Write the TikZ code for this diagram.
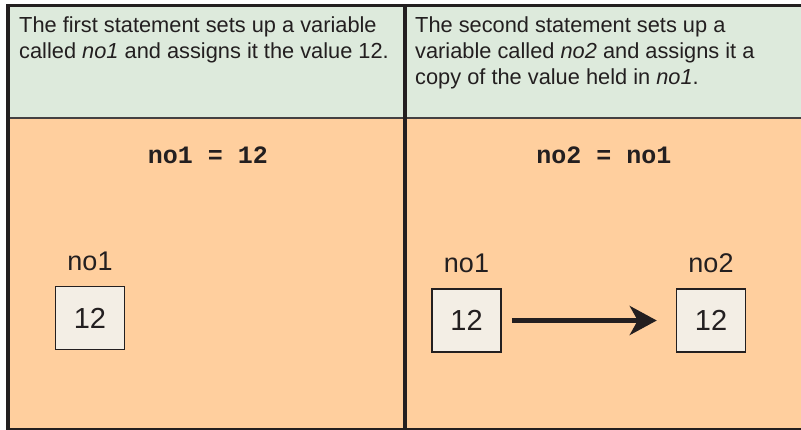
\documentclass[tikz,border=0pt]{standalone}
\usepackage{fontspec}
\setmainfont{Liberation Sans}
\setmonofont{Liberation Mono}
\usepackage{tikz}
\usetikzlibrary{arrows.meta,positioning}
\definecolor{notegreen}{HTML}{DDEADC}
\definecolor{codeorange}{HTML}{FFCF9E}
\definecolor{boxfill}{HTML}{F3EEE5}
\definecolor{ink}{HTML}{231F20}

\begin{document}
\begin{tikzpicture}[x=1pt, y=-1pt,
  note/.style={anchor=north west, inner sep=0pt, align=left, text=ink,
    font=\fontsize{21.8}{26}\selectfont},
  code/.style={inner sep=0pt, text=ink, font=\fontsize{25}{30}\selectfont\ttfamily\bfseries},
  var/.style={draw=ink, line width=1.5pt, fill=boxfill, minimum width=69pt, minimum height=63pt,
    inner sep=0pt, text=ink, font=\fontsize{29}{32}\selectfont},
  varname/.style={inner sep=0pt, text=ink, font=\fontsize{27}{30}\selectfont}]
\useasboundingbox (0,0) rectangle (801,430);
\fill[notegreen] (8,5) rectangle (801,118);
\fill[codeorange] (8,118) rectangle (801,430);
\draw[ink!85, line width=1.2pt] (8,118) -- (801,118);
\draw[ink, line width=3.5pt] (8,430) -- (8,5.5) -- (801,5.5);
\draw[ink, line width=1.2pt] (8,429) -- (801,429);
\draw[ink, line width=4pt] (405,5) -- (405,430);

% left panel
\node[note] (t1) at (19,17) {The first statement sets up a variable\\called \textit{no1} and assigns it the value 12.};
\node[code] (c1) at (208,155) {no1 = 12};
\node[var] (a) at (90,318) {12};
\node[varname, above=15pt of a.north] (la) {no1};

% right panel
\node[note] (t2) at (415,17) {The second statement sets up a\\variable called \textit{no2} and assigns it a\\copy of the value held in \textit{no1}.};
\node[code] (c2) at (604,155) {no2 = no1};
\node[var] (b) at (466.5,320.5) {12};
\node[var] (c) at (711,320.5) {12};
\node[varname, above=15pt of b.north] (lb) {no1};
\node[varname, above=15pt of c.north] (lc) {no2};

\draw[ink, line width=4.5pt, shorten <=10pt, shorten >=19pt,
  -{Stealth[length=27pt, width=29pt, inset=8pt]}] (b) -- (c);
\end{tikzpicture}
\end{document}
